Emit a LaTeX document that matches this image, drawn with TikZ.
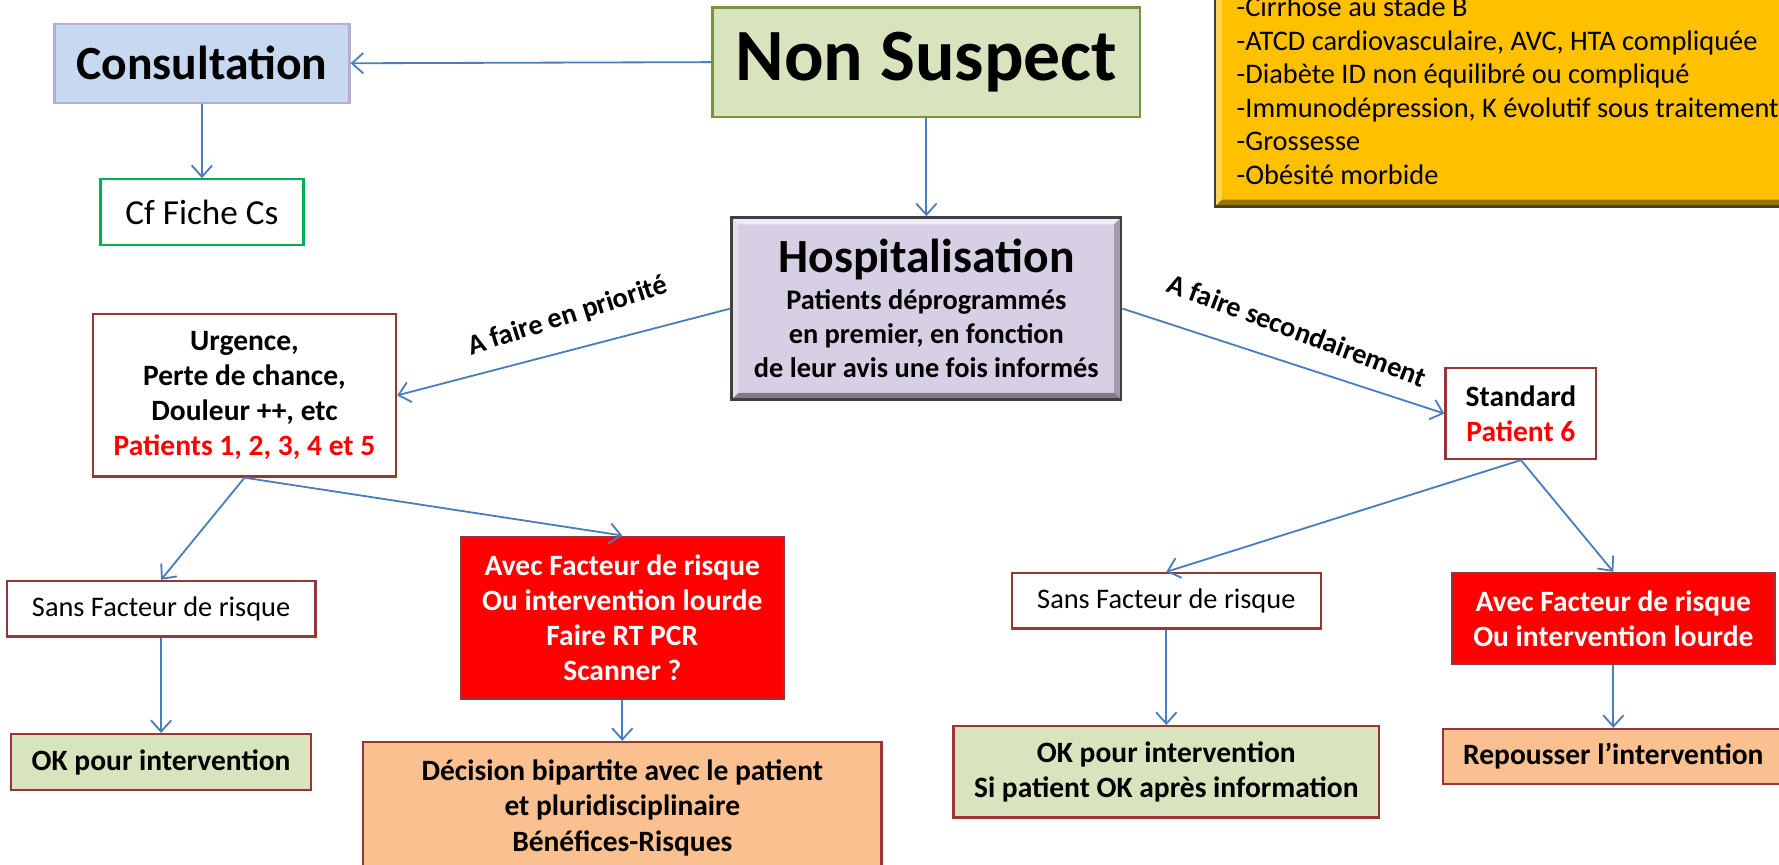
\documentclass[tikz,border=0pt]{standalone}
\usepackage{fontspec}
\setmainfont{Carlito}
\usetikzlibrary{positioning,arrows.meta}

\definecolor{arrowblue}{RGB}{74,126,187}
\definecolor{boxred}{RGB}{149,55,53}
\definecolor{okgreen}{RGB}{215,228,189}
\definecolor{nsborder}{RGB}{119,147,60}
\definecolor{csblue}{RGB}{198,217,241}
\definecolor{csborder}{RGB}{185,172,206}
\definecolor{cfgreen}{RGB}{0,176,80}
\definecolor{hosplilac}{RGB}{215,207,228}
\definecolor{riskgold}{RGB}{255,192,0}
\definecolor{peach}{RGB}{250,192,144}
\definecolor{bevelgray}{RGB}{64,64,64}

\tikzset{
    arr/.style={draw=arrowblue, line width=0.8pt, -{Straight Barb[length=5pt,width=9pt]}},
    arrback/.style={draw=arrowblue, line width=0.8pt, {Straight Barb[length=5pt,width=9pt]}-},
    basebox/.style={draw=boxred, line width=1pt, inner sep=2pt, align=center, font=\fontsize{13}{15.5}\selectfont\bfseries},
    whitebox/.style={basebox, fill=white},
    redbox/.style={basebox, fill=red, text=white},
    okbox/.style={basebox, fill=okgreen},
    peachbox/.style={basebox, fill=peach},
    plaintext/.style={font=\fontsize{12.5}{15}\selectfont},
    edgetext/.style={sloped, above=8pt, inner sep=0pt, font=\fontsize{12.5}{15}\selectfont\bfseries},
    bevel/.style={path picture={
        \path (path picture bounding box.north west) coordinate (bvA)
              (path picture bounding box.north east) coordinate (bvB)
              (path picture bounding box.south east) coordinate (bvC)
              (path picture bounding box.south west) coordinate (bvD);
        \fill[white,opacity=.6] (bvA) -- (bvB) -- ([shift={(-#1,-#1)}]bvB) -- ([shift={(#1,-#1)}]bvA) -- cycle;
        \fill[white,opacity=.3] (bvA) -- (bvD) -- ([shift={(#1,#1)}]bvD) -- ([shift={(#1,-#1)}]bvA) -- cycle;
        \fill[black,opacity=.25] (bvB) -- (bvC) -- ([shift={(-#1,#1)}]bvC) -- ([shift={(-#1,-#1)}]bvB) -- cycle;
        \fill[black,opacity=.4] (bvD) -- (bvC) -- ([shift={(-#1,#1)}]bvC) -- ([shift={(#1,#1)}]bvD) -- cycle;
    }}
}

\begin{document}
\begin{tikzpicture}[x=0.5pt, y=-0.5pt]
    \useasboundingbox (0,0) rectangle (1568,762);
    \fill[white] (0,0) rectangle (1568,762);
    \clip (0,0) rectangle (1568,762);

    \node[draw=nsborder, fill=okgreen, line width=1pt, minimum width=188.5pt, minimum height=48.25pt,
        font=\fontsize{32.5}{38}\selectfont\bfseries] (ns) at (816.5,54.75) {Non Suspect};
    \node[draw=csborder, fill=csblue, line width=1pt, minimum width=130pt, minimum height=34.75pt,
        font=\fontsize{21}{25}\selectfont\bfseries] (consult) at (178,55.75) {Consultation};
    \node[draw=cfgreen, fill=white, line width=1pt, minimum width=89.5pt, minimum height=29pt,
        font=\fontsize{15.5}{18}\selectfont, below=32.75pt of consult] (cf) {Cf Fiche Cs};

    \node[draw=bevelgray, fill=riskgold, line width=1.2pt, bevel=3pt, minimum width=264.5pt, minimum height=102pt,
        text width=245.5pt, inner xsep=9.5pt, align=flush left, font=\fontsize{12.5}{14.75}\selectfont] (risk) at (1335.5,80)
        {-Cirrhose au stade B\\
         -ATCD cardiovasculaire, AVC, HTA compliquée\\
         -Diabète ID non équilibré ou compliqué\\
         -Immunodépression, K évolutif sous traitement\\
         -Grossesse\\
         -Obésité morbide};

    \node[draw=bevelgray, fill=hosplilac, line width=1.2pt, bevel=3pt, minimum width=171.5pt, minimum height=80.25pt,
        align=center, font=\fontsize{12.5}{15}\selectfont\bfseries, below=43.25pt of ns] (hosp)
        {{\fontsize{21}{25}\selectfont Hospitalisation}\\[1.5pt]
         Patients déprogrammés\\ en premier, en fonction\\ de leur avis une fois informés};

    \node[whitebox, minimum width=133.5pt, minimum height=71.5pt] (urg) at (215.5,348.5)
        {Urgence,\\ Perte de chance,\\ Douleur ++, etc\\ \textcolor{red}{Patients 1, 2, 3, 4 et 5}};
    \node[whitebox, minimum width=66.5pt, minimum height=40pt] (std) at (1340.5,364.5)
        {Standard\\ \textcolor{red}{Patient 6}};

    \node[whitebox, plaintext, minimum width=136pt, minimum height=24.5pt] (sansL) at (142,536.5) {Sans Facteur de risque};
    \node[redbox, minimum width=142.5pt, minimum height=71.5pt] (avecM) at (548.5,544.5)
        {Avec Facteur de risque\\ Ou intervention lourde\\ Faire RT PCR\\ Scanner ?};
    \node[okbox, minimum width=132pt, minimum height=24.75pt, below=42pt of sansL] (okL) {OK pour intervention};
    \node[peachbox, minimum width=228.5pt, minimum height=58pt, below=18pt of avecM] (dec)
        {Décision bipartite avec le patient\\ et pluridisciplinaire\\ Bénéfices-Risques};

    \node[whitebox, plaintext, minimum width=136pt, minimum height=24.5pt] (sansR) at (1028,529.5) {Sans Facteur de risque};
    \node[redbox, minimum width=142pt, minimum height=40pt] (avecR) at (1422,545)
        {Avec Facteur de risque\\ Ou intervention lourde};
    \node[okbox, minimum width=187.5pt, minimum height=40.25pt, below=42pt of sansR] (okR)
        {OK pour intervention\\ Si patient OK après information};
    \node[peachbox, minimum width=150pt, minimum height=24.25pt, below=27.75pt of avecR] (rep) {Repousser l’intervention};

    \draw[arr] (ns.west) -- (consult.east);
    \draw[arr] (consult) -- (cf);
    \draw[arr] (ns) -- (hosp);
    \draw[arrback] (urg.east) -- node[edgetext, pos=0.54, above=9pt, rotate=3] {A faire en priorité} (hosp.west);
    \draw[arr] (hosp.east) -- node[edgetext, pos=0.51, above=10pt, rotate=-2.5] {A faire secondairement} (std.west);
    \draw[arr] (urg.south) -- (sansL.north);
    \draw[arr] (urg.south) -- (avecM.north);
    \draw[arr] (sansL) -- (okL);
    \draw[arr] (avecM) -- (dec);
    \draw[arr] (std.south) -- (sansR.north);
    \draw[arr] (std.south) -- (avecR.north);
    \draw[arr] (sansR) -- (okR);
    \draw[arr] (avecR) -- (rep);
\end{tikzpicture}
\end{document}
